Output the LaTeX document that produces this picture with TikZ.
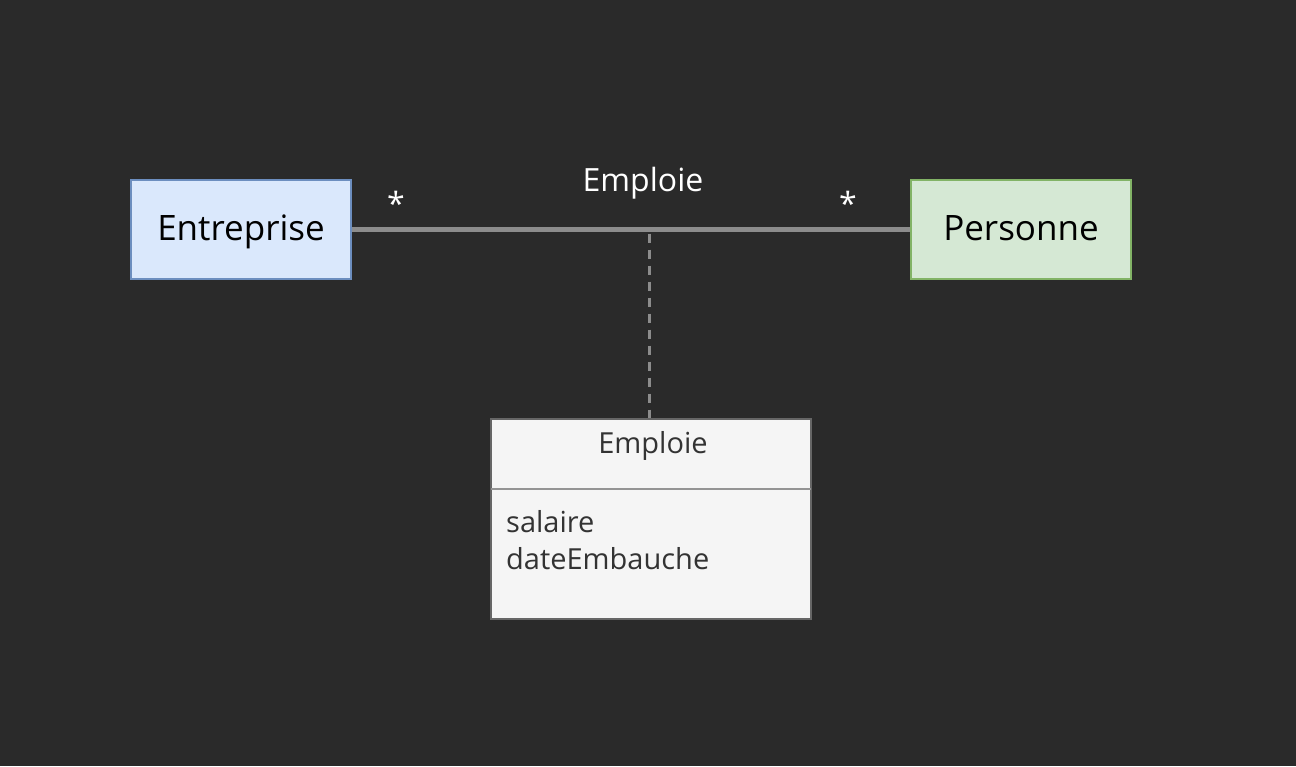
\documentclass[tikz,border=0pt]{standalone}
\usepackage{fontspec}
\setmainfont{Open Sans}
\usetikzlibrary{positioning}
\definecolor{bg}{HTML}{2A2A2A}
\definecolor{bluefill}{HTML}{DAE8FC}
\definecolor{blueline}{HTML}{6C8EBF}
\definecolor{greenfill}{HTML}{D5E8D4}
\definecolor{greenline}{HTML}{82B366}
\definecolor{greyfill}{HTML}{F5F5F5}
\definecolor{greyline}{HTML}{666666}
\definecolor{edge}{HTML}{8C8C8C}
\definecolor{txt}{HTML}{333333}
\tikzset{
  px/.style={x=1pt,y=-1pt},
  entity/.style={draw, line width=1.5pt, minimum width=220pt, minimum height=99pt, inner sep=0pt, text height=26pt, text depth=4pt, font=\fontsize{35}{40}\selectfont, text=black},
  lbl/.style={text=white, font=\fontsize{32}{36}\selectfont, inner sep=0pt},
  assoc/.style={draw=edge, line width=4.5pt},
  dashline/.style={draw=edge, line width=3pt, dash pattern=on 9pt off 7pt},
  classtxt/.style={text=txt, font=\fontsize{29}{34}\selectfont, inner sep=0pt}
}
\begin{document}
\begin{tikzpicture}[px]
\fill[bg] (0,0) rectangle (1296,766);
\useasboundingbox (0,0) rectangle (1296,766);
\node[entity, fill=bluefill, draw=blueline] (ent) at (241,229.5) {Entreprise};
\node[entity, fill=greenfill, draw=greenline] (per) at (1021,229.5) {Personne};
\draw[assoc] (ent.east) -- coordinate[pos=0.533] (mid) (per.west);
\node[lbl] (lab) at (643,183) {Emploie};
\node[lbl] (s1) at (396,203) {*};
\node[lbl] (s2) at (848,203) {*};
\node[draw=greyline, fill=greyfill, line width=1.5pt, minimum width=320pt, minimum height=200pt, inner sep=0pt] (cls) at (651,519) {};
\draw[greyline!70, line width=1.5pt] (491,489) coordinate (sepL) -- (811,489) coordinate (sepR);
\node[classtxt] (ct) at (653,446) {Emploie};
\node[classtxt, anchor=west] (a1) at (506,522) {salaire};
\node[classtxt, anchor=west] (a2) at (506,559) {dateEmbauche};
\draw[dashline] (mid |- ent.east) ++(0,4) -- (cls.north -| mid);
\end{tikzpicture}
\end{document}
